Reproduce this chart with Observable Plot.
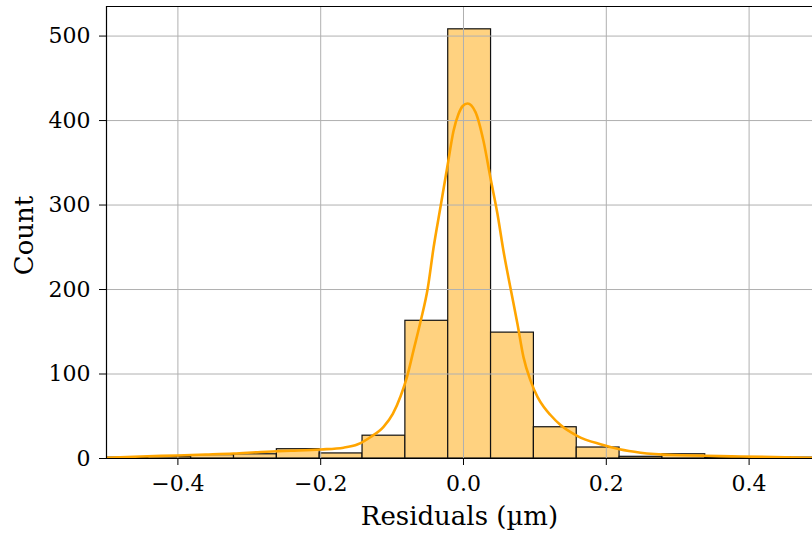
<!DOCTYPE html>
<html><head><meta charset="utf-8">
<script src="https://cdn.jsdelivr.net/npm/d3@7"></script>
<script src="https://cdn.jsdelivr.net/npm/@observablehq/plot@0.6"></script>
<style>html,body{margin:0;padding:0;background:#fff;overflow:hidden;}</style>
</head><body><div id="chart"></div>
<script>
// Histogram bin edges (µm) and counts
const binEdges = [-0.5014, -0.4414, -0.3814, -0.3214, -0.2614, -0.2014, -0.1414, -0.0814, -0.0214,
                  0.0386, 0.0986, 0.1586, 0.2186, 0.2786, 0.3386, 0.3986, 0.4586, 0.5186];
const binCounts = [1, 2, 4, 5, 11, 6, 27, 163, 508, 149, 37, 13, 2, 5, 1, 1, 1];

// KDE curve (scaled to counts)
const kdeX = [-0.500, -0.452, -0.401, -0.361, -0.322, -0.284, -0.242, -0.200, -0.168, -0.148,
              -0.130, -0.112, -0.099, -0.088, -0.079, -0.070, -0.060, -0.050, -0.042, -0.032,
              -0.022, -0.014, -0.007, -0.001, 0.0056, 0.0168, 0.028, 0.0378, 0.0476, 0.056,
              0.0658, 0.0756, 0.084, 0.0938, 0.1036, 0.112, 0.1218, 0.1359, 0.1597, 0.1919,
              0.2185, 0.2479, 0.2941, 0.388, 0.489];
const kdeY = [0.8, 2.4, 3.6, 4.7, 5.9, 7.7, 9.1, 10.7, 12.8, 16.8,
              25.5, 37.5, 52.7, 74, 97, 128, 162.7, 201.8, 249.1, 298.8,
              348.5, 387.6, 407.7, 417.2, 420.1, 410, 375.7, 331.9, 289.3, 245.6,
              201.8, 159.2, 120, 92.5, 73, 61.5, 51.5, 39.6, 26.6, 16.8,
              10.9, 6.9, 4.1, 2.4, 0.8];

const xTicks = [-0.4, -0.2, 0.0, 0.2, 0.4];
const yTicks = [0, 100, 200, 300, 400, 500];
const xLabel = "Residuals (µm)";
const yLabel = "Count";

const bins = binCounts.map((c, i) => ({x1: binEdges[i], x2: binEdges[i + 1], y: c}));
const kde = kdeX.map((x, i) => ({x, y: kdeY[i]}));

const chart = Plot.plot({
  width: 812,
  height: 533,
  marginLeft: 106,
  marginRight: 0,
  marginTop: 6,
  marginBottom: 75,
  x: {domain: [-0.5, 0.4888]},
  y: {domain: [0, 535]},
  style: {fontFamily: "DejaVu Serif", fontSize: "22px", color: "#000", background: "#fff", overflow: "hidden"},
  marks: [
    Plot.rectY(bins, {x1: "x1", x2: "x2", y: "y", fill: "#ffd280", stroke: "#111", strokeWidth: 1.2, clip: true}),
    Plot.gridX(xTicks, {stroke: "#b0b0b0", strokeOpacity: 1, strokeWidth: 1}),
    Plot.gridY(yTicks.filter(d => d > 0), {stroke: "#b0b0b0", strokeOpacity: 1, strokeWidth: 1}),
    Plot.line(kde, {x: "x", y: "y", stroke: "#ffa500", strokeWidth: 2.6, curve: "monotone-x", clip: true}),
    Plot.ruleX([-0.5], {stroke: "#000", strokeWidth: 1.2}),
    Plot.ruleY([0], {stroke: "#000", strokeWidth: 1.2}),
    Plot.ruleY([535], {stroke: "#000", strokeWidth: 1.2}),
    Plot.axisX(xTicks, {tickSize: 7, tickPadding: 10, tickFormat: d3.format(".1f"), label: null, fontSize: 22, stroke: "#000"}),
    Plot.axisY(yTicks, {tickSize: 7, tickPadding: 9, tickFormat: d3.format("d"), label: null, fontSize: 22, stroke: "#000"}),
    Plot.text([xLabel], {frameAnchor: "bottom", dy: 66, fontSize: 26, fill: "#000"}),
    Plot.text([yLabel], {frameAnchor: "left", dx: -82, dy: 3, rotate: -90, textAnchor: "middle", fontSize: 26, fill: "#000"})
  ]
});
document.getElementById("chart").appendChild(chart);
</script>
</body></html>
